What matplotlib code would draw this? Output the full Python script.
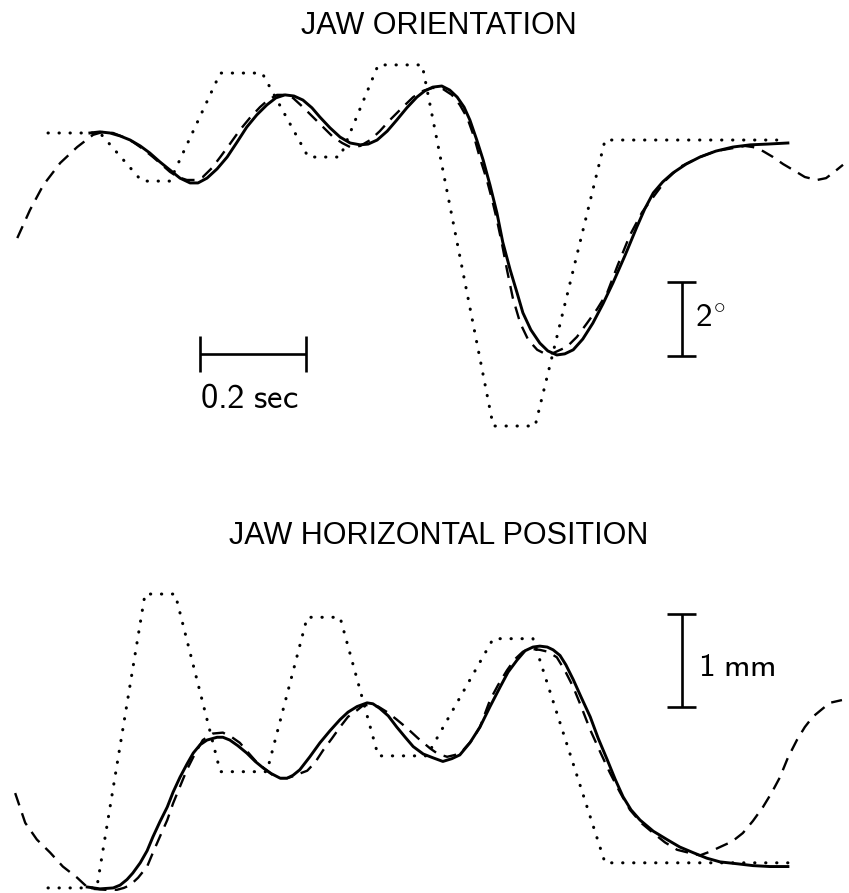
import matplotlib
matplotlib.use("Agg")
import matplotlib.pyplot as plt

plt.rcParams['mathtext.fontset'] = 'custom'
plt.rcParams['mathtext.rm'] = 'cmss10'
plt.rcParams['mathtext.sf'] = 'cmss10'
plt.rcParams['mathtext.it'] = 'cmss10'

# ---- JAW ORIENTATION (time in s, angle in deg) ----
ori_target_t = [0.0, 0.098, 0.177, 0.230, 0.325, 0.404, 0.491, 0.551, 0.623, 0.706, 0.840, 0.919, 1.051, 1.375]
ori_target_a = [0.0, 0.0, -1.30, -1.30, 1.62, 1.62, -0.65, -0.65, 1.84, 1.84, -7.92, -7.92, -0.19, -0.19]

ori_meas_t = [0.079, 0.098, 0.117, 0.136, 0.155, 0.174, 0.192, 0.211, 0.230, 0.249,
              0.268, 0.283, 0.300, 0.319, 0.338, 0.357, 0.375, 0.394, 0.413, 0.430,
              0.447, 0.464, 0.481, 0.498, 0.513, 0.532, 0.551, 0.570, 0.589, 0.604,
              0.621, 0.640, 0.658, 0.677, 0.696, 0.711, 0.726, 0.743, 0.758, 0.772,
              0.785, 0.796, 0.809, 0.821, 0.834, 0.847, 0.858, 0.872, 0.885, 0.896,
              0.911, 0.928, 0.943, 0.960, 0.975, 0.991, 1.009, 1.028, 1.047, 1.066,
              1.089, 1.111, 1.126, 1.142, 1.160, 1.179, 1.204, 1.230, 1.260, 1.292,
              1.325, 1.357, 1.396]
ori_meas_a = [0.00, 0.03, 0.00, -0.08, -0.19, -0.35, -0.54, -0.78, -1.00, -1.22,
              -1.35, -1.35, -1.22, -0.97, -0.65, -0.24, 0.16, 0.49, 0.76, 0.95,
              1.03, 1.00, 0.89, 0.68, 0.43, 0.14, -0.11, -0.27, -0.32, -0.30,
              -0.19, 0.05, 0.35, 0.68, 0.97, 1.14, 1.24, 1.27, 1.16, 0.97,
              0.70, 0.35, -0.19, -0.73, -1.41, -2.16, -2.95, -3.70, -4.32, -4.86,
              -5.32, -5.68, -5.89, -6.00, -5.97, -5.86, -5.57, -5.14, -4.62, -4.05,
              -3.30, -2.54, -2.05, -1.62, -1.32, -1.08, -0.84, -0.65, -0.49, -0.38,
              -0.32, -0.30, -0.27]

ori_model_t = [-0.058, -0.034, -0.009, 0.023, 0.055, 0.085, 0.104, 0.123, 0.142, 0.160,
               0.179, 0.198, 0.215, 0.230, 0.245, 0.262, 0.277, 0.292, 0.309, 0.325,
               0.343, 0.362, 0.381, 0.400, 0.415, 0.432, 0.447, 0.462, 0.481, 0.500,
               0.519, 0.538, 0.555, 0.570, 0.589, 0.608, 0.626, 0.645, 0.668, 0.689,
               0.708, 0.726, 0.745, 0.762, 0.777, 0.791, 0.804, 0.815, 0.828, 0.838,
               0.847, 0.857, 0.866, 0.877, 0.891, 0.906, 0.923, 0.938, 0.953, 0.979,
               0.998, 1.017, 1.036, 1.055, 1.075, 1.098, 1.121, 1.142, 1.166, 1.192,
               1.230, 1.260, 1.292, 1.315, 1.330, 1.349, 1.368, 1.387, 1.406, 1.428,
               1.451, 1.468, 1.481, 1.500]
ori_model_a = [-2.84, -2.08, -1.41, -0.81, -0.38, -0.05, 0.03, 0.00, -0.11, -0.24,
               -0.43, -0.65, -0.86, -1.05, -1.19, -1.27, -1.27, -1.19, -0.95, -0.65,
               -0.30, 0.08, 0.41, 0.70, 0.89, 1.03, 1.03, 0.95, 0.70, 0.43,
               0.16, -0.11, -0.27, -0.38, -0.35, -0.19, 0.05, 0.35, 0.68, 0.97,
               1.14, 1.22, 1.19, 1.03, 0.76, 0.41, -0.11, -0.68, -1.27, -1.81,
               -2.35, -3.03, -3.70, -4.46, -5.14, -5.59, -5.86, -5.97, -5.95, -5.78,
               -5.51, -5.14, -4.76, -4.32, -3.57, -2.76, -2.14, -1.73, -1.27, -0.92,
               -0.65, -0.49, -0.41, -0.35, -0.38, -0.49, -0.65, -0.84, -1.00, -1.19,
               -1.27, -1.22, -1.08, -0.86]

# ---- JAW HORIZONTAL POSITION (time in s, position in mm) ----
pos_target_t = [0.0, 0.092, 0.183, 0.240, 0.325, 0.413, 0.489, 0.551, 0.623, 0.715, 0.840, 0.915, 1.051, 1.396]
pos_target_p = [-0.01, -0.01, 3.15, 3.15, 1.24, 1.24, 2.90, 2.90, 1.41, 1.41, 2.67, 2.67, 0.26, 0.26]

pos_meas_t = [0.074, 0.098, 0.123, 0.136, 0.149, 0.160, 0.174, 0.187, 0.198, 0.211,
              0.225, 0.236, 0.249, 0.262, 0.274, 0.287, 0.300, 0.319, 0.330, 0.343,
              0.358, 0.375, 0.391, 0.406, 0.421, 0.438, 0.451, 0.462, 0.475, 0.494,
              0.513, 0.532, 0.551, 0.566, 0.583, 0.602, 0.613, 0.626, 0.642, 0.658,
              0.674, 0.689, 0.708, 0.726, 0.745, 0.762, 0.777, 0.796, 0.815, 0.834,
              0.853, 0.868, 0.885, 0.900, 0.915, 0.928, 0.942, 0.953, 0.966, 0.977,
              0.991, 1.006, 1.023, 1.038, 1.055, 1.070, 1.085, 1.100, 1.117, 1.142,
              1.168, 1.192, 1.217, 1.243, 1.268, 1.300, 1.330, 1.362, 1.396]
pos_meas_p = [0.00, -0.02, -0.01, 0.02, 0.08, 0.15, 0.26, 0.39, 0.54, 0.70,
              0.86, 1.02, 1.18, 1.32, 1.44, 1.53, 1.58, 1.61, 1.61, 1.58,
              1.52, 1.44, 1.35, 1.28, 1.22, 1.17, 1.17, 1.20, 1.26, 1.40,
              1.55, 1.68, 1.80, 1.88, 1.94, 1.98, 1.97, 1.92, 1.84, 1.72,
              1.61, 1.51, 1.43, 1.39, 1.35, 1.38, 1.42, 1.55, 1.72, 1.94,
              2.15, 2.31, 2.44, 2.54, 2.58, 2.59, 2.58, 2.55, 2.49, 2.39,
              2.23, 2.04, 1.83, 1.60, 1.37, 1.16, 0.97, 0.83, 0.72, 0.60,
              0.51, 0.43, 0.37, 0.31, 0.27, 0.25, 0.23, 0.22, 0.22]

pos_model_t = [-0.062, -0.043, -0.021, 0.004, 0.028, 0.055, 0.070, 0.085, 0.108, 0.130,
               0.143, 0.155, 0.170, 0.187, 0.198, 0.211, 0.225, 0.236, 0.249, 0.262,
               0.277, 0.292, 0.311, 0.330, 0.347, 0.362, 0.377, 0.394, 0.409, 0.425,
               0.438, 0.451, 0.462, 0.475, 0.489, 0.504, 0.519, 0.536, 0.551, 0.566,
               0.583, 0.594, 0.608, 0.623, 0.640, 0.658, 0.677, 0.698, 0.721, 0.736,
               0.753, 0.768, 0.783, 0.800, 0.815, 0.834, 0.849, 0.866, 0.881, 0.896,
               0.911, 0.928, 0.943, 0.960, 0.975, 0.991, 1.006, 1.023, 1.042, 1.060,
               1.079, 1.098, 1.119, 1.142, 1.164, 1.187, 1.208, 1.230, 1.249, 1.268,
               1.291, 1.311, 1.330, 1.349, 1.366, 1.381, 1.396, 1.413, 1.428, 1.443,
               1.460, 1.475, 1.498]
pos_model_p = [1.01, 0.69, 0.51, 0.37, 0.22, 0.10, 0.02, -0.02, -0.03, -0.03,
               -0.01, 0.02, 0.10, 0.22, 0.37, 0.54, 0.72, 0.90, 1.08, 1.26,
               1.43, 1.58, 1.65, 1.66, 1.61, 1.55, 1.45, 1.34, 1.27, 1.20,
               1.17, 1.17, 1.19, 1.22, 1.25, 1.34, 1.47, 1.60, 1.72, 1.83,
               1.90, 1.95, 1.96, 1.94, 1.88, 1.80, 1.71, 1.60, 1.49, 1.43,
               1.40, 1.42, 1.47, 1.58, 1.72, 2.01, 2.17, 2.33, 2.45, 2.53,
               2.56, 2.55, 2.53, 2.47, 2.33, 2.15, 1.94, 1.69, 1.45, 1.23,
               1.02, 0.83, 0.69, 0.58, 0.48, 0.40, 0.37, 0.34, 0.38, 0.43,
               0.49, 0.58, 0.71, 0.86, 1.02, 1.18, 1.39, 1.58, 1.72, 1.83,
               1.91, 1.98, 2.01]

fig = plt.figure(figsize=(8.49, 8.93), dpi=100)
ax1 = fig.add_axes([0, 0.4961, 1, 0.4479])
ax2 = fig.add_axes([0, 0.0, 1, 0.3729])

dot = dict(color='black', lw=2.2, linestyle=(0, (0.1, 3.5)), dash_capstyle='round')
dash = dict(color='black', lw=1.7, linestyle=(0, (5.5, 3.5)))
solid = dict(color='black', lw=2.1, solid_joinstyle='round')

ax1.plot(ori_target_t, ori_target_a, **dot)
ax1.plot(ori_model_t, ori_model_a, **dash)
ax1.plot(ori_meas_t, ori_meas_a, **solid)
ax1.set_xlim(-0.0906, 1.5113)
ax1.set_ylim(-8.568, 2.243)

ax2.plot(pos_target_t, pos_target_p, **dot)
ax2.plot(pos_model_t, pos_model_p, **dash)
ax2.plot(pos_meas_t, pos_meas_p, **solid)
ax2.set_xlim(-0.0906, 1.5113)
ax2.set_ylim(-0.0645, 3.516)

for ax in (ax1, ax2):
    ax.axis('off')

bar = dict(color='black', lw=1.9, solid_capstyle='butt')
# time scale bar: 0.2 sec
ax1.plot([0.287, 0.487], [-5.97, -5.97], **bar)
ax1.plot([0.287, 0.287], [-5.49, -6.46], **bar)
ax1.plot([0.487, 0.487], [-5.49, -6.46], **bar)
ax1.text(0.380, -7.15, r'$\mathrm{0.2\ sec}$', ha='center', va='center', fontsize=25)
# angle scale bar: 2 deg
ax1.plot([1.196, 1.196], [-4.03, -6.03], **bar)
ax1.plot([1.168, 1.223], [-4.03, -4.03], **bar)
ax1.plot([1.168, 1.223], [-6.03, -6.03], **bar)
ax1.text(1.220, -5.0, r'$\mathrm{2}^{\circ}$', ha='left', va='center', fontsize=24)
# position scale bar: 1 mm
ax2.plot([1.196, 1.196], [2.94, 1.94], **bar)
ax2.plot([1.168, 1.223], [2.94, 2.94], **bar)
ax2.plot([1.168, 1.223], [1.94, 1.94], **bar)
ax2.text(1.226, 2.37, r'$\mathrm{1\ mm}$', ha='left', va='center', fontsize=24)

fig.text(0.517, 1 - 26 / 893, 'JAW ORIENTATION', ha='center', va='center',
         fontsize=22, family='Liberation Sans')
fig.text(0.517, 1 - 536 / 893, 'JAW HORIZONTAL POSITION', ha='center', va='center',
         fontsize=22, family='Liberation Sans')

fig.savefig('out.png', dpi=100)
